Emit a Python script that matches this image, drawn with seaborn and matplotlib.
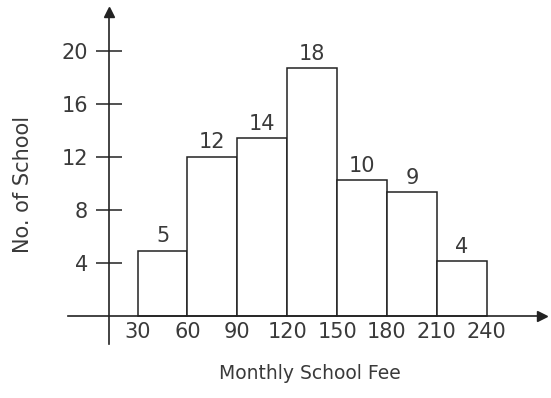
import matplotlib
matplotlib.use('Agg')
import matplotlib.pyplot as plt
import seaborn as sns

# 数据
bin_edges = [30, 60, 90, 120, 150, 180, 210, 240]
bar_heights = [4.9, 12, 13.4, 18.7, 10.2, 9.3, 4.1]   # 图中柱子的实际高度
bar_labels = ['5', '12', '14', '18', '10', '9', '4']   # 柱顶标注
y_ticks = [4, 8, 12, 16, 20]

sns.set_style('white')
plt.rcParams['font.family'] = ['DejaVu Sans']

line_c = '#222222'
text_c = '#3a3a3a'
num_size = 15

fig = plt.figure(figsize=(5.51, 3.98), dpi=100)
ax = fig.add_axes([0.1234, 0.1357, 0.8597, 0.8334])

mids = [(a + b) / 2 for a, b in zip(bin_edges[:-1], bin_edges[1:])]
sns.histplot(x=mids, weights=bar_heights, bins=bin_edges, ax=ax,
             color='white', edgecolor=line_c, linewidth=1.1, alpha=1)

ax.set_xlim(-11.9, 273.1)
ax.set_ylim(-2.15, 22.9)

# 坐标轴 (带箭头)
for s in ['top', 'right']:
    ax.spines[s].set_visible(False)
ax.spines['left'].set_position(('data', 12.7))
ax.spines['bottom'].set_position(('data', 0))
for s in ['left', 'bottom']:
    ax.spines[s].set_color(line_c)
    ax.spines[s].set_linewidth(1.2)
ax.plot(1, 0, '>', color=line_c, markersize=7, transform=ax.get_yaxis_transform(), clip_on=False)
ax.plot(12.7, 1, '^', color=line_c, markersize=7, transform=ax.get_xaxis_transform(), clip_on=False)

ax.set_yticks(y_ticks)
ax.set_xticks(bin_edges)
ax.tick_params(axis='y', direction='inout', length=19, width=1.1, color=line_c,
               pad=5.5, labelsize=num_size, labelcolor=text_c, left=True)
ax.tick_params(axis='x', length=0, pad=5, labelsize=num_size, labelcolor=text_c, bottom=True)

ax.bar_label(ax.containers[0], labels=bar_labels, padding=3, fontsize=num_size, color=text_c)

ax.set_xlabel('Monthly School Fee', fontsize=13.5, color=text_c)
ax.set_ylabel('No. of School', fontsize=15, color=text_c)
ax.xaxis.set_label_coords(0.511, -0.06)
ax.yaxis.set_label_coords(-0.074, 0.48)

fig.savefig('out.png', dpi=100)
